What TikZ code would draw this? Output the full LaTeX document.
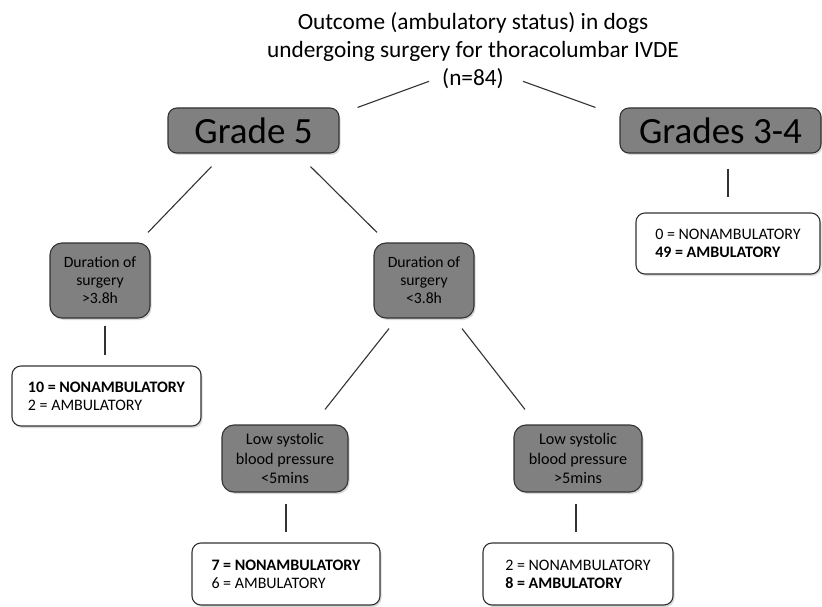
\documentclass[tikz,border=0pt]{standalone}
\usepackage{fontspec}
\setmainfont{Carlito}
\usepackage{tikz}
\usetikzlibrary{shadows,calc}
\definecolor{boxgray}{RGB}{128,128,128}

\begin{document}
\begin{tikzpicture}
[
x=1pt, y=-1pt,
box/.style={draw=black!80, line width=1.1pt, rounded corners=9pt,
	drop shadow={opacity=0.3, shadow xshift=1.5pt, shadow yshift=-2pt}},
grade/.style={box, fill=boxgray, minimum height=45pt, font=\fontsize{37}{40}\selectfont},
factor/.style={box, fill=boxgray, align=center, rounded corners=12pt},
outcome/.style={box, fill=white, align=left, font=\fontsize{16}{18}\selectfont},
link/.style={line width=1.1pt, black!80}
]
\useasboundingbox (0,0) rectangle (822,607);
\node[align=center, font=\fontsize{23.3}{28}\selectfont, inner sep=0pt] (title) at (473,51)
	{Outcome (ambulatory status) in dogs\\undergoing surgery for thoracolumbar IVDE\\(n=84)};
\node[grade, minimum width=171pt] (g5) at (253.5,130.5) {Grade 5};
\node[grade, minimum width=201pt] (g34) at (720.5,130.5) {Grades 3-4};
\node[factor, minimum width=100pt, minimum height=75pt, font=\fontsize{15.7}{18}\selectfont] (durlong) at (100,280.5) {Duration of\\surgery\\>3.8h};
\node[factor, minimum width=100pt, minimum height=75pt, font=\fontsize{15.7}{18}\selectfont] (durshort) at (424,280.5) {Duration of\\surgery\\<3.8h};
\node[factor, minimum width=126pt, minimum height=67pt, font=\fontsize{16.2}{19.5}\selectfont] (lowshort) at (285,458.5) {Low systolic\\blood pressure\\<5mins};
\node[factor, minimum width=128pt, minimum height=67pt, font=\fontsize{16.2}{19.5}\selectfont] (lowlong) at (578,458.5) {Low systolic\\blood pressure\\>5mins};
\node[outcome, minimum width=184pt, minimum height=61pt] (res34) at (728,243.5) {0 = NONAMBULATORY\\\textbf{49 = AMBULATORY}};
\node[outcome, minimum width=189pt, minimum height=60pt] (reslong) at (106.5,396) {\textbf{10 = NONAMBULATORY}\\2 = AMBULATORY};
\node[outcome, minimum width=188pt, minimum height=62pt] (resshort) at (286,574) {\textbf{7 = NONAMBULATORY}\\6 = AMBULATORY};
\node[outcome, minimum width=190pt, minimum height=62pt] (reslow) at (578,574) {2 = NONAMBULATORY\\\textbf{8 = AMBULATORY}};

\draw[link] ($(title.south)+(-44,-8)$) -- ($(g5.north east)+(18,0)$);
\draw[link] ($(title.south)+(50,-8)$) -- ($(g34.north west)+(-24,0)$);
\draw[link] ($(g5.south)+(-42,13)$) -- ($(durlong.north)+(48,-10)$);
\draw[link] ($(g5.south)+(57,13)$) -- ($(durshort.north)+(-47,-10)$);
\draw[link] ($(g34.south)+(7.5,15)$) -- ($(res34.north)+(0,-15)$);
\draw[link] ($(durlong.south)+(5,7)$) -- ($(reslong.north)+(-1.5,-10)$);
\draw[link] ($(durshort.south)+(-35,10)$) -- ($(lowshort.north)+(40,-15)$);
\draw[link] ($(durshort.south)+(38,10)$) -- ($(lowlong.north)+(-53,-15)$);
\draw[link] ($(lowshort.south)+(1,11)$) -- ($(resshort.north)+(0,-10)$);
\draw[link] ($(lowlong.south)+(-2,11)$) -- ($(reslow.north)+(-2,-10)$);
\end{tikzpicture}
\end{document}
